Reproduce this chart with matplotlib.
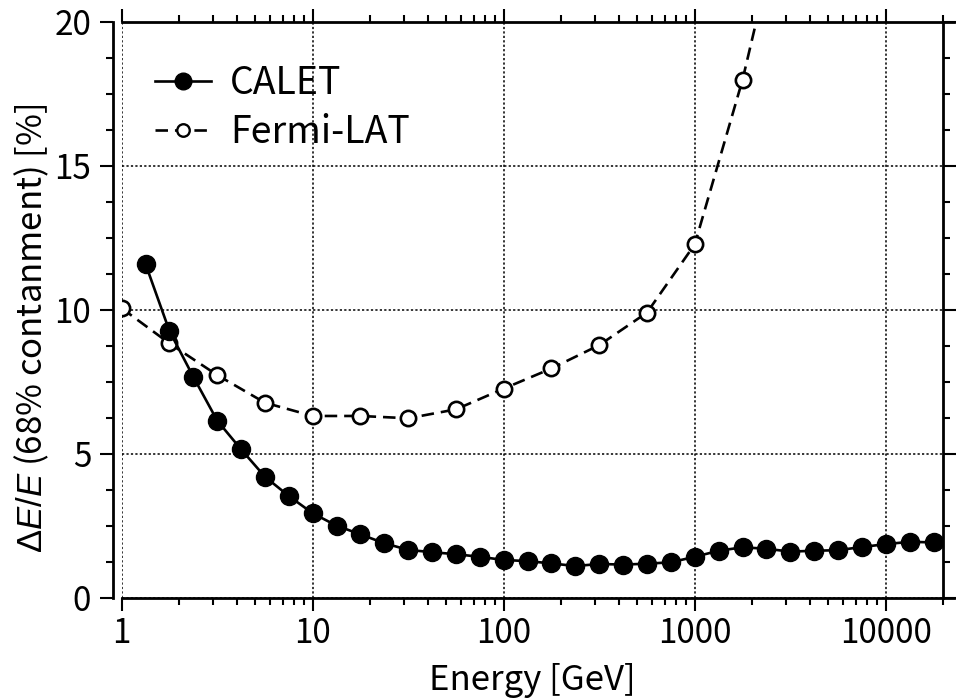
import matplotlib
matplotlib.use("Agg")
import matplotlib.pyplot as plt
from matplotlib.lines import Line2D
from matplotlib.ticker import FixedLocator, FixedFormatter, MultipleLocator, LogLocator, NullFormatter

# ---------------- data ----------------
calet_energy = [1.334, 1.778, 2.371, 3.162, 4.217, 5.623, 7.499, 10.0, 13.34, 17.78,
                23.71, 31.62, 42.17, 56.23, 74.99, 100.0, 133.4, 177.8, 237.1, 316.2,
                421.7, 562.3, 749.9, 1000.0, 1334.0, 1778.0, 2371.0, 3162.0, 4217.0,
                5623.0, 7499.0, 10000.0, 13340.0, 17780.0]
calet_res = [11.58, 9.26, 7.67, 6.15, 5.15, 4.20, 3.53, 2.93, 2.50, 2.20,
             1.89, 1.66, 1.58, 1.51, 1.42, 1.31, 1.27, 1.19, 1.10, 1.17,
             1.15, 1.18, 1.23, 1.42, 1.63, 1.75, 1.70, 1.60, 1.63,
             1.65, 1.76, 1.86, 1.94, 1.92]

fermi_energy = [1.0, 1.778, 3.162, 5.623, 10.0, 17.78, 31.62, 56.23, 100.0, 177.8,
                316.2, 562.3, 1000.0, 1778.0, 3162.0]
fermi_res = [10.05, 8.83, 7.73, 6.77, 6.31, 6.31, 6.23, 6.54, 7.26, 7.96,
             8.77, 9.90, 12.27, 17.98, 25.0]

x_ticks = [1, 10, 100, 1000, 10000]
x_tick_labels = ["1", "10", "100", "1000", "10000"]
y_ticks = [0, 5, 10, 15, 20]
y_tick_labels = ["0", "5", "10", "15", "20"]

# ---------------- style ----------------
plt.rcParams["font.family"] = ["Noto Sans CJK JP", "DejaVu Sans"]
plt.rcParams["mathtext.fontset"] = "custom"
plt.rcParams["mathtext.rm"] = "Liberation Sans"
plt.rcParams["mathtext.it"] = "Liberation Sans:italic"
plt.rcParams["lines.scale_dashes"] = False

fig = plt.figure(figsize=(9.63, 7.0), dpi=100)
W, H = 963.0, 700.0
x0, x1 = 121.7, 943.3
y0, y1 = 21.7, 597.7
ax = fig.add_axes([x0 / W, 1 - y1 / H, (x1 - x0) / W, (y1 - y0) / H])

ax.set_xscale("log")
ax.set_xlim(1, 20000)
ax.set_ylim(0, 20)

ax.plot(calet_energy, calet_res, color="black", lw=1.9, marker="o", ms=13,
        mfc="black", mec="black", mew=1, zorder=4)
ax.plot(fermi_energy, fermi_res, color="black", lw=1.9, dashes=(9, 5), marker="o",
        ms=11, mfc="white", mec="black", mew=1.9, zorder=3)

# axes/ticks
ax.xaxis.set_major_locator(FixedLocator(x_ticks))
ax.xaxis.set_major_formatter(FixedFormatter(x_tick_labels))
ax.xaxis.set_minor_locator(LogLocator(base=10, subs=[2, 3, 4, 5, 6, 7, 8, 9], numticks=20))
ax.xaxis.set_minor_formatter(NullFormatter())
ax.yaxis.set_major_locator(FixedLocator(y_ticks))
ax.yaxis.set_major_formatter(FixedFormatter(y_tick_labels))
ax.yaxis.set_minor_locator(MultipleLocator(1.25))

ax.tick_params(which="both", direction="out", top=True, right=True,
               labeltop=False, labelright=False, width=1.5, color="black")
ax.tick_params(which="major", length=9.5, labelsize=24)
ax.tick_params(which="minor", length=5)
ax.tick_params(axis="y", which="major", pad=6)
ax.tick_params(axis="x", which="major", pad=4)

for s in ax.spines.values():
    s.set_linewidth(2.0)
ax.spines["left"].set_position(("outward", 6.5))
ax.spines["bottom"].set_bounds(1, 22760)
ax.spines["top"].set_bounds(1, 22760)

ax.grid(which="major", color="black", linestyle=(0, (1.6, 1.6)), linewidth=1.1)
ax.set_axisbelow(True)

ax.set_xlabel("Energy [GeV]", fontsize=25)
ax.xaxis.label.set_va("center")
ax.xaxis.set_label_coords(0.5, (y1 - 681) / (y1 - y0))
ax.set_ylabel(r"$\Delta \mathit{E}/\mathit{E}$ (68% contanment) [%]", fontsize=25)
ax.yaxis.label.set_va("center")
ax.yaxis.set_label_coords((32 - x0) / (x1 - x0), (y1 - 328) / (y1 - y0))

# legend
h1 = Line2D([], [], color="black", lw=1.9, marker="o", ms=12, mfc="black", mec="black", mew=1)
h2 = Line2D([], [], color="black", lw=1.9, dashes=(9, 5), marker="o", ms=9,
            mfc="white", mec="black", mew=1.7)
ax.legend([h1, h2], ["CALET", "Fermi-LAT"], loc="center left",
          bbox_to_anchor=((155 - x0) / (x1 - x0), (y1 - 108) / (y1 - y0)),
          frameon=False, fontsize=27, borderpad=0, borderaxespad=0,
          handlelength=1.5, handletextpad=0.5, labelspacing=0.26)

fig.savefig("out.png", dpi=100)
